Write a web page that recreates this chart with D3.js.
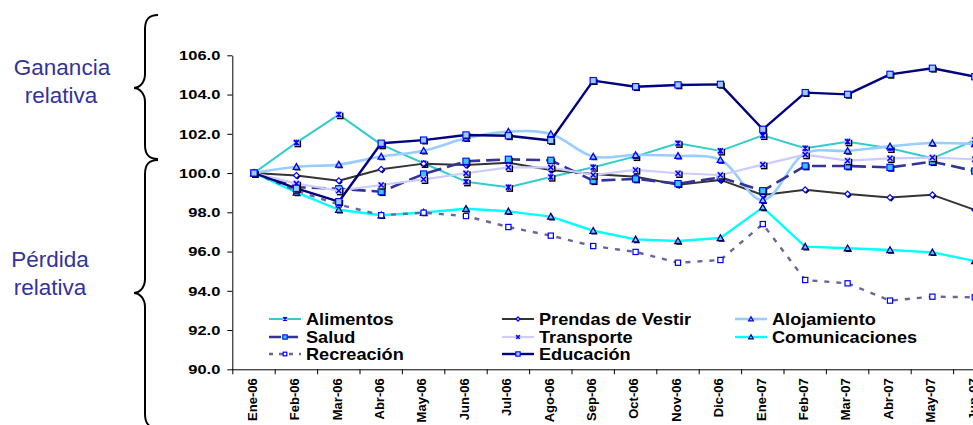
<!DOCTYPE html>
<html>
<head>
<meta charset="utf-8">
<script src="https://cdn.jsdelivr.net/npm/d3@7"></script>
<style>
  html, body { margin: 0; padding: 0; background: #fff; overflow: hidden; }
  svg { display: block; font-family: "Liberation Sans", Arial, sans-serif; }
</style>
</head>
<body>
<svg id="chart" width="973" height="425"></svg>
<script>
// ---- Data ----
const months = ["Ene-06","Feb-06","Mar-06","Abr-06","May-06","Jun-06","Jul-06","Ago-06","Sep-06","Oct-06","Nov-06","Dic-06","Ene-07","Feb-07","Mar-07","Abr-07","May-07","Jun-07"];
const yTicks = [90, 92, 94, 96, 98, 100, 102, 104, 106];

const alimentos      = [100.0,101.55,102.98,101.45,100.50,99.56,99.28,99.80,100.30,100.85,101.52,101.13,101.92,101.26,101.60,101.26,100.75,101.68];
const prendas        = [100.0, 99.88, 99.61,100.19,100.48,100.41,100.53,100.16,99.95,99.81,99.40,99.65,98.88,99.15,98.93,98.75,98.89,98.12];
const alojamiento    = [100.0,100.32,100.43,100.84,101.14,101.77,102.11,101.99,100.84,100.92,100.88,100.67,98.62,101.00,101.13,101.36,101.53,101.48];
const salud          = [100.0, 99.28, 99.20, 99.05, 99.95,100.60,100.70,100.65,99.61,99.70,99.46,99.78,99.10,100.36,100.36,100.29,100.58,100.10];
const transporte     = [100.0, 99.46, 99.10, 99.39, 99.68, 99.99,100.29,100.29,99.90,100.16,99.99,99.90,100.43,100.94,100.63,100.75,100.79,100.70];
const comunicaciones = [100.0, 99.01, 98.13, 97.85, 97.99, 98.18, 98.05, 97.78,97.06,96.62,96.54,96.69,98.25,96.25,96.17,96.08,95.96,95.52];
const recreacion     = [100.0, 99.10, 98.40, 97.85, 97.98, 97.81, 97.25, 96.81,96.28,95.98,95.43,95.57,97.40,94.55,94.38,93.50,93.70,93.67];
const educacion      = [100.0, 99.22, 98.54,101.52,101.68,101.94,101.90,101.66,104.71,104.40,104.49,104.52,102.23,104.10,104.01,105.03,105.34,104.91];

const seriesNames = ["Alimentos","Prendas de Vestir","Alojamiento","Salud","Transporte","Comunicaciones","Recreación","Educación"];
const seriesValues = [alimentos, prendas, alojamiento, salud, transporte, comunicaciones, recreacion, educacion];

// ---- Styles ----
const styles = {
  "Alimentos":         {color:"#33CCCC", width:2,   dash:null,  curve:false, marker:"xstar"},
  "Prendas de Vestir": {color:"#333333", width:2,   dash:null,  curve:false, marker:"diamond"},
  "Alojamiento":       {color:"#99CCFF", width:2.6, dash:null,  curve:true,  marker:"tri"},
  "Salud":             {color:"#333399", width:2.6, dash:"14,6", curve:false, marker:"sqcyan"},
  "Transporte":        {color:"#CCCCFF", width:2.2, dash:null,  curve:false, marker:"x"},
  "Comunicaciones":    {color:"#00FFFF", width:2.4, dash:null,  curve:false, marker:"tridark"},
  "Recreación":        {color:"#666699", width:2.4, dash:"5,7", curve:false, marker:"sqopen"},
  "Educación":         {color:"#000080", width:2.4, dash:null,  curve:false, marker:"sqblue"}
};

const svg = d3.select("#chart");
const left = 232.8, step = 42.4;
const x = d3.scaleBand().domain(months).range([left, left + step * months.length]).padding(0);
const y = d3.scaleLinear().domain([90, 106]).range([369.3, 55.3]);
const cx = d => x(d) + x.bandwidth() / 2;

function stretch(sel, f) {
  sel.each(function() {
    const len = this.getComputedTextLength();
    d3.select(this).attr("textLength", len * f).attr("lengthAdjust", "spacingAndGlyphs");
  });
}

// ---- Left annotations & braces ----
function brace(xEnd, xStem, xTip, yTop, yBot, yTip) {
  return `M${xEnd},${yTop} C${xStem+4},${yTop} ${xStem},${yTop+4} ${xStem},${yTop+14}` +
         ` L${xStem},${yTip-14} C${xStem},${yTip-5} ${xTip+5},${yTip} ${xTip},${yTip}` +
         ` C${xTip+5},${yTip} ${xStem},${yTip+5} ${xStem},${yTip+14}` +
         ` L${xStem},${yBot-14} C${xStem},${yBot-4} ${xStem+4},${yBot} ${xEnd},${yBot}`;
}
svg.append("path").attr("d", brace(158, 145, 134, 15, 159, 88))
  .attr("fill","none").attr("stroke","#000").attr("stroke-width",2);
svg.append("path").attr("d", brace(158, 145, 134, 160, 428, 293))
  .attr("fill","none").attr("stroke","#000").attr("stroke-width",2);

const ann = svg.append("g").attr("fill","#333399").attr("font-size",22.5).attr("text-anchor","middle");
ann.append("text").attr("x",62).attr("y",75).text("Ganancia");
ann.append("text").attr("x",61).attr("y",103).text("relativa");
ann.append("text").attr("x",50).attr("y",267).text("Pérdida");
ann.append("text").attr("x",50).attr("y",295).text("relativa");

// ---- Axes ----
const yAxis = svg.append("g").attr("transform", `translate(232.3,0)`)
  .call(d3.axisLeft(y).tickValues(yTicks).tickFormat(d3.format(".1f")).tickSize(5).tickSizeOuter(0).tickPadding(7));
yAxis.select(".domain").attr("stroke","#000");
yAxis.selectAll(".tick line").attr("stroke","#000");
yAxis.selectAll("text").attr("font-size",13.5).attr("font-weight","bold").attr("fill","#000")
  .attr("font-family","'Liberation Sans', Arial, sans-serif");
stretch(yAxis.selectAll("text"), 1.22);

const xAxis = svg.append("g").attr("transform", `translate(0,${y(90)})`)
  .call(d3.axisBottom(x).tickSize(0).tickSizeOuter(0));
xAxis.select(".domain").attr("stroke","#000").attr("d", `M232.3,0.5H1000`);
xAxis.selectAll("text")
  .attr("transform","rotate(-90)").attr("text-anchor","end")
  .attr("x",-9).attr("y",0).attr("dy","0.22em")
  .attr("font-size",13).attr("font-weight","bold").attr("fill","#000")
  .attr("font-family","'Liberation Sans', Arial, sans-serif");
// boundary ticks
xAxis.selectAll(".btick").data(months.concat(["_end"])).enter().append("line")
  .attr("class","btick")
  .attr("x1", (d,i) => i < months.length ? x(d) : x(months[months.length-1]) + x.bandwidth())
  .attr("x2", (d,i) => i < months.length ? x(d) : x(months[months.length-1]) + x.bandwidth())
  .attr("y1",0).attr("y2",5).attr("stroke","#000");

// ---- Markers ----
function drawMarker(g, type, px, py, shadow, k) {
  k = k || 1;
  const sh = shadow === false ? false : true;
  if (type === "xstar" || type === "x") {
    const s = 3.3 * k, a = 2.5 * k;
    if (sh) g.append("rect").attr("x",px-s+1.4).attr("y",py-s+1.4).attr("width",2*s).attr("height",2*s).attr("fill","#000");
    g.append("rect").attr("x",px-s).attr("y",py-s).attr("width",2*s).attr("height",2*s).attr("fill","#CCCCFF");
    const p = `M${px-a},${py-a}L${px+a},${py+a}M${px-a},${py+a}L${px+a},${py-a}` +
              (type === "xstar" ? `M${px},${py-a-0.3}L${px},${py+a+0.3}` : "");
    g.append("path").attr("d",p).attr("stroke","#0000FF").attr("stroke-width",1.5).attr("fill","none");
  } else if (type === "diamond") {
    const r = 2.9 * k;
    const d = (ox,oy) => `M${px+ox},${py-r+oy}L${px+r+ox},${py+oy}L${px+ox},${py+r+oy}L${px-r+ox},${py+oy}Z`;
    if (sh) g.append("path").attr("d",d(1.2,1.2)).attr("fill","#000");
    g.append("path").attr("d",d(0,0)).attr("fill","#fff").attr("stroke","#0000FF").attr("stroke-width",1.2);
  } else if (type === "tri" || type === "tridark") {
    const r = 3.2 * k;
    const d = (ox,oy) => `M${px+ox},${py-r+oy}L${px+r+ox},${py+r*0.8+oy}L${px-r+ox},${py+r*0.8+oy}Z`;
    if (sh) g.append("path").attr("d",d(1.2,1.2)).attr("fill","#000");
    g.append("path").attr("d",d(0,0))
      .attr("fill", type === "tri" ? "#99CCFF" : "#66CCFF")
      .attr("stroke", type === "tri" ? "#0000FF" : "#000080").attr("stroke-width",1.3);
  } else if (type === "sqcyan" || type === "sqblue") {
    const r = 3.1 * k;
    if (sh) g.append("rect").attr("x",px-r+1.3).attr("y",py-r+1.3).attr("width",2*r).attr("height",2*r).attr("fill","#000");
    g.append("rect").attr("x",px-r).attr("y",py-r).attr("width",2*r).attr("height",2*r)
      .attr("fill", type === "sqcyan" ? "#33CCEE" : "#99CCFF")
      .attr("stroke","#0000FF").attr("stroke-width",1.1);
  } else if (type === "sqopen") {
    const r = 2.6 * k;
    g.append("rect").attr("x",px-r).attr("y",py-r).attr("width",2*r).attr("height",2*r)
      .attr("fill","#fff").attr("stroke","#0000FF").attr("stroke-width",1.2);
  }
}

// ---- Series ----
const plot = svg.append("g");
seriesNames.forEach((name, si) => {
  const st = styles[name];
  const vals = seriesValues[si];
  const line = d3.line().x((d,i) => cx(months[i])).y(d => y(d))
    .curve(st.curve ? d3.curveCatmullRom.alpha(0.5) : d3.curveLinear);
  plot.append("path").datum(vals).attr("d", line)
    .attr("fill","none").attr("stroke", st.color).attr("stroke-width", st.width)
    .attr("stroke-dasharray", st.dash).attr("stroke-linejoin","round");
  const mg = plot.append("g");
  vals.forEach((v,i) => drawMarker(mg, st.marker, cx(months[i]), y(v)));
});

// ---- Legend ----
const legendCols = [269, 502, 735];
const legendRows = [319, 337, 354];
const legend = svg.append("g");
seriesNames.forEach((name, i) => {
  const st = styles[name];
  const col = i % 3, row = Math.floor(i / 3);
  const lx = legendCols[col], ly = legendRows[row];
  const g = legend.append("g");
  g.append("line").attr("x1",lx).attr("x2",lx+32).attr("y1",ly).attr("y2",ly)
    .attr("stroke",st.color).attr("stroke-width",st.width).attr("stroke-dasharray", st.dash ? (name === "Salud" ? "12,5" : "4,6") : null);
  drawMarker(g, st.marker, lx+16, ly, false, 0.7);
  const t = g.append("text").attr("x",lx+37).attr("y",ly+5.8)
    .attr("font-size",16.2).attr("font-weight","bold").attr("fill","#000").text(name);
  stretch(t, 1.12);
});
</script>
</body>
</html>
